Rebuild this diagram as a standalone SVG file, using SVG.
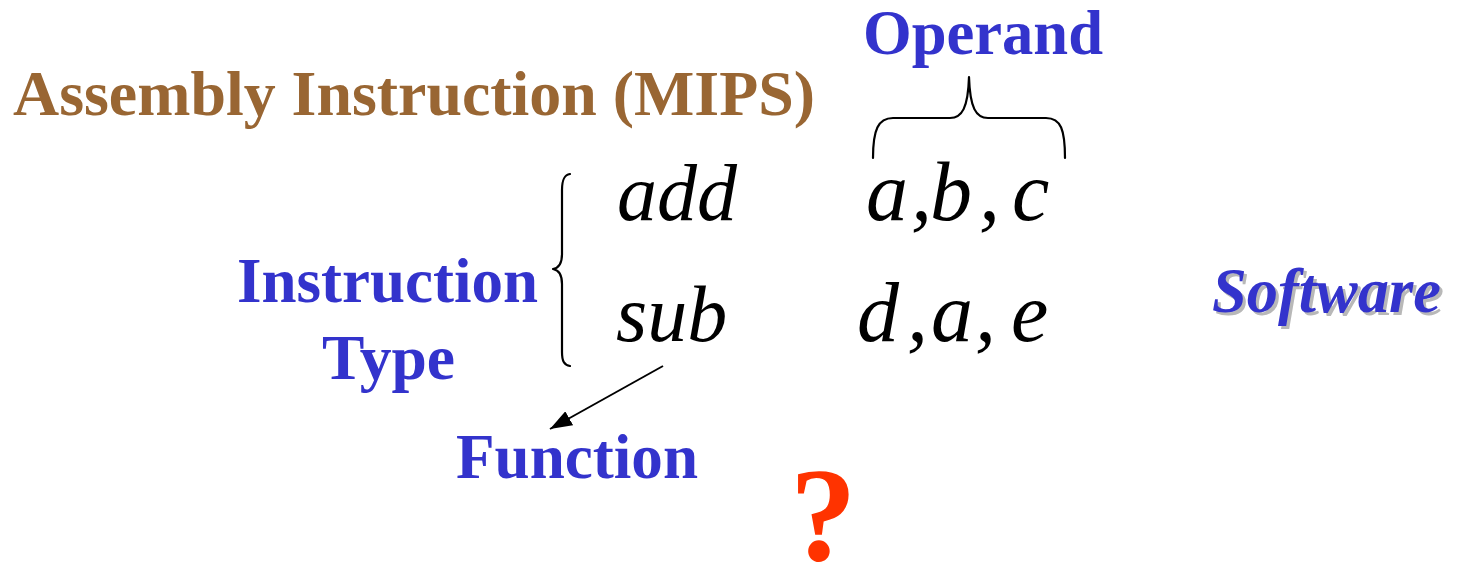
<svg xmlns="http://www.w3.org/2000/svg" width="1458" height="566" viewBox="0 0 1458 566">
<style>
.b{font-family:"Liberation Serif","Times New Roman",serif;font-weight:bold;font-size:64px}
.blue{fill:#3333CC}
.m{font-family:"Liberation Serif","Times New Roman",serif;font-style:italic;font-size:80px;fill:#000}
.op{font-size:84px}
.br{fill:none;stroke:#000;stroke-width:2.2;stroke-linecap:round;stroke-linejoin:round}
</style>
<defs>
<marker id="ah" markerWidth="22" markerHeight="16" refX="22" refY="8" orient="auto" markerUnits="userSpaceOnUse" viewBox="0 0 22 16">
<path d="M0,0 L22,8 L0,16 z" fill="#000"/>
</marker>
</defs>
<rect width="1458" height="566" fill="#fff"/>
<g id="title"><text class="b" x="13" y="115" fill="#996633" textLength="802" lengthAdjust="spacingAndGlyphs">Assembly Instruction (MIPS)</text></g>
<g id="operand-label"><text class="b blue" x="863" y="54" textLength="240" lengthAdjust="spacingAndGlyphs">Operand</text></g>
<g id="instruction-type"><text class="b blue" x="237" y="302" textLength="301" lengthAdjust="spacingAndGlyphs">Instruction</text><text class="b blue" x="322" y="379" textLength="133" lengthAdjust="spacingAndGlyphs">Type</text></g>
<g id="function-label"><text class="b blue" x="456" y="478" textLength="242" lengthAdjust="spacingAndGlyphs">Function</text></g>
<g id="software"><text class="b" font-style="italic" x="1215" y="315" fill="#B8B8B8" textLength="229" lengthAdjust="spacingAndGlyphs">Software</text><text class="b blue" font-style="italic" x="1212" y="312" textLength="229" lengthAdjust="spacingAndGlyphs">Software</text></g>
<g id="question"><text font-family="Liberation Serif, serif" font-weight="bold" font-size="133" x="790" y="560" fill="#FF3300">?</text></g>
<g id="add-row"><text class="m" x="617" y="220">add</text>
<text class="m op" y="220"><tspan x="866">a</tspan><tspan x="911">,</tspan><tspan x="930">b</tspan><tspan x="979">,</tspan><tspan x="1012">c</tspan></text></g>
<g id="sub-row"><text class="m" x="616" y="341">sub</text>
<text class="m op" y="341"><tspan x="857">d</tspan><tspan x="907">,</tspan><tspan x="931">a</tspan><tspan x="975">,</tspan><tspan x="1011">e</tspan></text></g>
<g id="connectors">
<path class="br" d="M873,158 C873,130 878,118 893,118 L950,118 C962,118 968,108 969,77 C970,108 976,118 988,118 L1046,118 C1061,118 1065,130 1065,158"/>
<path class="br" d="M570,174 C564,175 562,180 562,190 L562,254 C562,264 559,268 553,269 C559,270 562,274 562,284 L562,352 C562,361 564,365 570,366"/>
<line x1="663" y1="366" x2="550" y2="429" stroke="#000" stroke-width="2" marker-end="url(#ah)"/>
</g>
</svg>
